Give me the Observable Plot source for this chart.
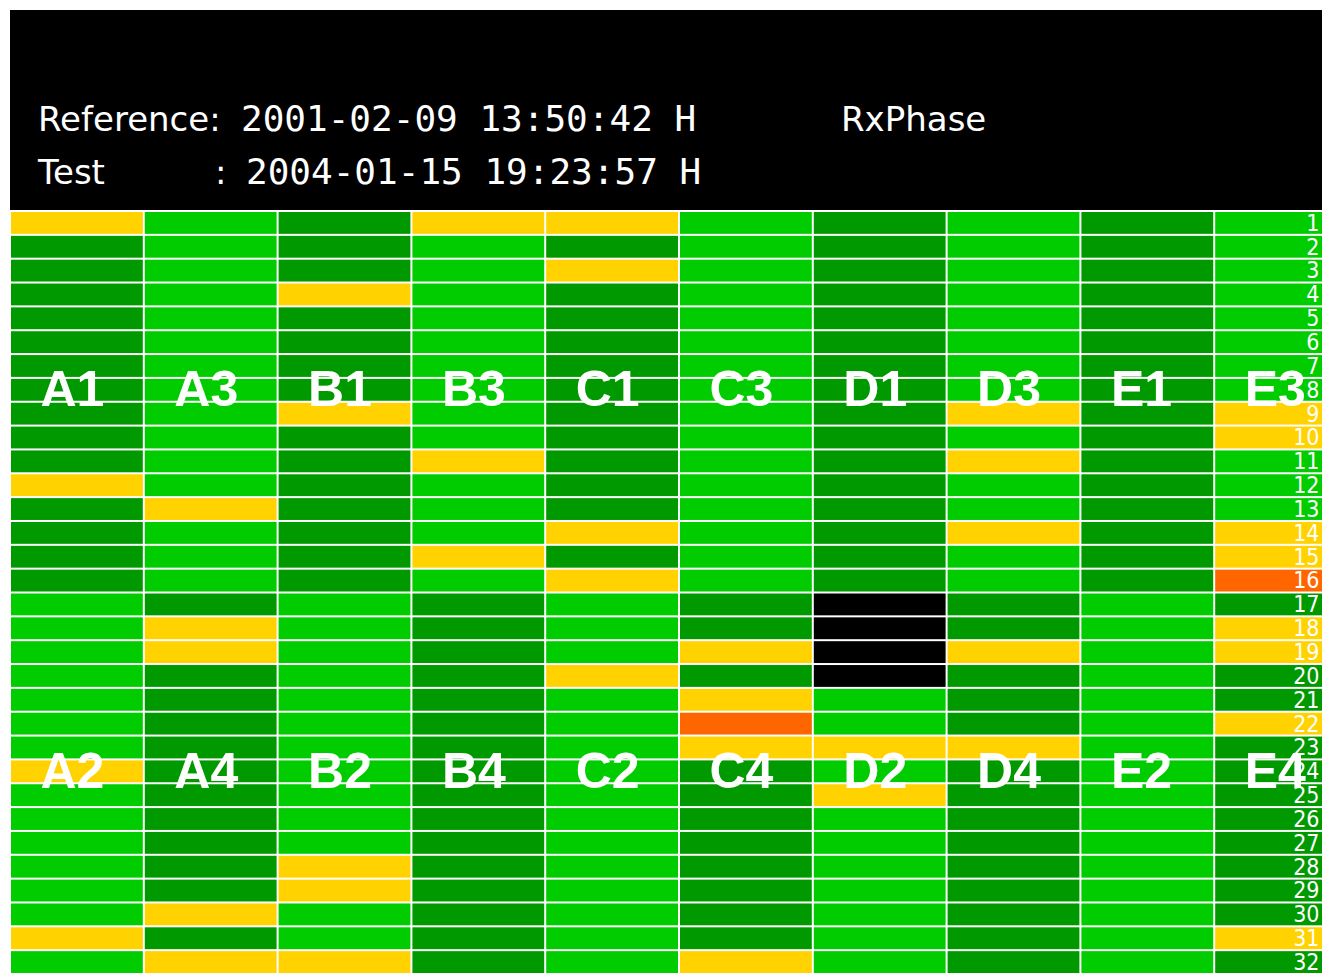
<!DOCTYPE html>
<html><head><meta charset="utf-8">
<script src="https://cdn.jsdelivr.net/npm/d3@7"></script>
<script src="https://cdn.jsdelivr.net/npm/@observablehq/plot@0.6"></script>
<style>
html,body{margin:0;padding:0;background:#fff;overflow:hidden;width:1322px;height:974px}
#hdr{position:absolute;left:10px;top:10px;width:1312px;height:200px;background:#000;}
.ht{position:absolute;color:#fff;font-family:"DejaVu Sans",sans-serif;font-size:34px;white-space:pre;line-height:53px;}
.mono{font-family:"DejaVu Sans Mono",monospace;font-size:36px;}
#chart{position:absolute;left:10px;top:211px;width:1312px;height:763px;}
</style></head>
<body>
<div id="hdr">
 <div class="ht" style="left:28px;top:83px">Reference:</div>
 <div class="ht mono" style="left:231px;top:82px">2001-02-09 13:50:42 H</div>
 <div class="ht" style="left:831px;top:83px">RxPhase</div>
 <div class="ht" style="left:28px;top:136px">Test</div>
 <div class="ht" style="left:205px;top:136px">:</div>
 <div class="ht mono" style="left:236px;top:135px">2004-01-15 19:23:57 H</div>
</div>
<div id="chart"></div>
<script>
// Status codes per row (1..32) for each column
// D = dark green, L = light green, Y = yellow, O = orange, K = black (no data)
const colA1A2 = "Y D D D D D D D D D D Y D D D D L L L L L L L Y L L L L L L Y L".split(" ");
const colA3A4 = "L L L L L L L L L L L L Y L L L D Y Y D D D D D D D D D D Y D Y".split(" ");
const colB1B2 = "D D D Y D D D D Y D D D D D D D L L L L L L L L L L L Y Y L L Y".split(" ");
const colB3B4 = "Y L L L L L L L L L Y L L L Y L D D D D D D D D D D D D D D D D".split(" ");
const colC1C2 = "Y D Y D D D D D D D D D D Y D Y L L L Y L L L L L L L L L L L L".split(" ");
const colC3C4 = "L L L L L L L L L L L L L L L L D D Y D Y O Y D D D D D D D D Y".split(" ");
const colD1D2 = "D D D D D D D D D D D D D D D D K K K K L L Y L Y L L L L L L L".split(" ");
const colD3D4 = "L L L L L L L L Y L Y L L Y L L D D Y D D D Y D D D D D D D D D".split(" ");
const colE1E2 = "D D D D D D D D D D D D D D D D L L L L L L L L L L L L L L L L".split(" ");
const colE3E4 = "L L L L L L L L Y Y L L L Y Y O D Y Y D D Y D D D D D D D D Y D".split(" ");

const upperLabels = ["A1","A3","B1","B3","C1","C3","D1","D3","E1","E3"];
const lowerLabels = ["A2","A4","B2","B4","C2","C4","D2","D4","E2","E4"];
const labelRows = [8, 24];
const rowNumbers = [1,2,3,4,5,6,7,8,9,10,11,12,13,14,15,16,17,18,19,20,21,22,23,24,25,26,27,28,29,30,31,32];

const statusCodes = ["D","L","Y","O","K"];
const statusColors = ["#009900","#00cc00","#ffd200","#ff6600","#000000"];

const columns = [colA1A2,colA3A4,colB1B2,colB3B4,colC1C2,colC3C4,colD1D2,colD3D4,colE1E2,colE3E4];
const cells = [];
columns.forEach((codes, i) => codes.forEach((c, r) => cells.push({col: i, row: rowNumbers[r], code: c})));

const labels = [];
upperLabels.forEach((t, i) => labels.push({col: i, row: labelRows[0], text: t}));
lowerLabels.forEach((t, i) => labels.push({col: i, row: labelRows[1], text: t}));

const W = 1312, H = 763, colPitch = 133.8;

const chart = Plot.plot({
  width: W, height: H, margin: 0,
  style: {background: "#fff", overflow: "hidden"},
  x: {type: "linear", domain: [0, W / colPitch], axis: null},
  y: {type: "linear", domain: [0, 32], reverse: true, axis: null},
  color: {domain: statusCodes, range: statusColors},
  marks: [
    Plot.rect(cells, {x1: "col", x2: d => d.col + 1, y1: d => d.row - 1, y2: "row", fill: "code", inset: 1, clip: true}),
    Plot.text(labels, {x: "col", y: d => d.row - 0.5, text: "text", textAnchor: "start", dx: 30,
      fill: "white", fontSize: 50, fontWeight: "bold", fontFamily: "Liberation Sans, Arial, sans-serif"}),
    Plot.text(rowNumbers, {frameAnchor: "right", y: d => d - 0.5, text: d => String(d), textAnchor: "end", dx: -3,
      fill: "white", fontSize: 23, fontFamily: "Liberation Sans Narrow, DejaVu Sans Condensed, sans-serif"})
  ]
});
document.getElementById("chart").appendChild(chart);
</script>
</body></html>
